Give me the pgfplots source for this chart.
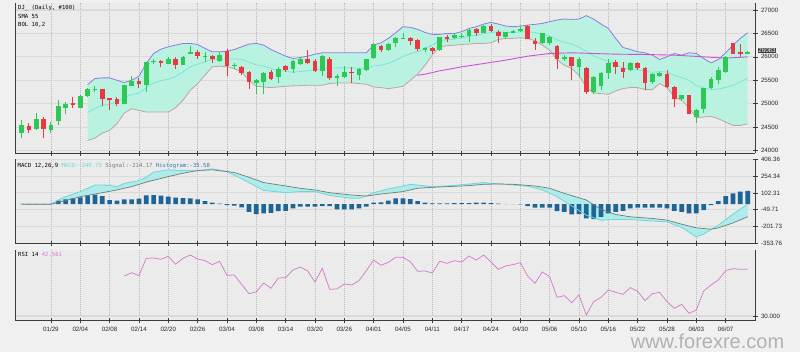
\documentclass[border=0pt]{standalone}
\usepackage{fontspec}
\setmainfont{Liberation Sans}
\newfontfamily\monof{DejaVu Sans Mono}
\usepackage{pgfplots}
\usepackage{pgfplotstable}
\pgfplotsset{compat=1.18}

\definecolor{bgc}{RGB}{240,240,240}
\definecolor{plotbg}{RGB}{235,235,235}
\definecolor{gridc}{RGB}{218,218,218}
\definecolor{vgridc}{RGB}{185,185,185}
\definecolor{axc}{RGB}{60,60,60}
\definecolor{labc}{RGB}{40,40,40}
\definecolor{cup}{RGB}{45,200,85}
\definecolor{cdn}{RGB}{235,55,65}
\definecolor{bolfill}{RGB}{186,242,226}
\definecolor{bolup}{RGB}{140,125,225}
\definecolor{bollo}{RGB}{190,165,160}
\definecolor{bolmid}{RGB}{120,230,215}
\definecolor{smac}{RGB}{205,80,215}
\definecolor{histc}{RGB}{30,100,150}
\definecolor{histtxt}{RGB}{50,120,170}
\definecolor{macdc}{RGB}{110,215,215}
\definecolor{sigc}{RGB}{110,125,120}
\definecolor{macdfill}{RGB}{175,235,235}
\definecolor{rsic}{RGB}{212,125,205}
\definecolor{wmc}{RGB}{178,178,178}
\definecolor{boxc}{RGB}{60,60,60}

\newcommand\hdr{\monof\fontsize{5.6}{6.5}\selectfont}
\newcommand\tkf{\fontsize{6.2}{7}\selectfont}

\pgfplotstableread{
j U M L
9 25407 24810 24214
10 25536 24900 24264
11 25550 24960 24371
12 25550 24990 24429
13 25500 25036 24571
14 25450 25125 24800
15 25500 25196 24893
16 25586 25221 24857
17 25857 25339 24821
18 26071 25446 24821
19 26164 25492 24821
20 26214 25518 24821
21 26250 25582 24914
22 26286 25678 25071
23 26286 25786 25286
24 26264 25846 25429
25 26179 25893 25607
26 26107 25946 25786
27 26107 25954 25800
28 26121 25954 25786
29 26157 25954 25750
30 26214 25946 25679
31 26271 25886 25500
32 26286 25828 25371
33 26250 25804 25357
34 26157 25750 25343
35 26086 25721 25357
36 26014 25693 25371
37 25964 25671 25379
38 25986 25686 25386
39 26014 25704 25393
40 26057 25725 25393
41 26086 25740 25393
42 26086 25758 25429
43 26086 25764 25443
44 26086 25764 25443
45 26086 25764 25443
46 26086 25758 25429
47 26086 25750 25414
48 26250 25804 25357
49 26300 25822 25343
50 26393 25857 25321
51 26514 25929 25343
52 26643 26007 25371
53 26629 26065 25500
54 26586 26108 25629
55 26521 26171 25821
56 26479 26258 26036
57 26479 26347 26214
58 26500 26368 26236
59 26500 26375 26250
60 26536 26400 26264
61 26607 26439 26271
62 26643 26465 26286
63 26700 26493 26286
64 26736 26518 26300
65 26700 26536 26371
66 26657 26525 26393
67 26643 26518 26393
68 26657 26532 26407
69 26679 26536 26393
70 26693 26518 26343
71 26714 26482 26250
72 26750 26447 26143
73 26786 26365 25943
74 26807 26314 25821
75 26800 26275 25750
76 26807 26207 25607
77 26879 26111 25343
78 26807 26018 25229
79 26700 25957 25214
80 26607 25904 25200
81 26393 25832 25271
82 26200 25761 25321
83 26157 25750 25343
84 26107 25725 25343
85 26086 25693 25300
86 26036 25668 25300
87 25943 25686 25429
88 26000 25672 25343
89 26071 25607 25143
90 26036 25554 25071
91 26086 25500 24914
92 26071 25386 24700
93 25964 25339 24714
94 25871 25300 24729
95 25943 25311 24679
96 26086 25347 24607
97 26250 25393 24536
98 26393 25465 24536
99 26514 25543 24571
}\bolT

\pgfplotstableread{
j v
54 25607
55 25629
57 25700
60 25786
63 25857
66 25929
69 26014
72 26071
75 26086
78 26071
81 26057
85 26050
89 26036
93 26000
96 25971
99 26000
}\smaT

\pgfplotstableread{
j v
0 0
4 0
5 38
6 68
8 114
10 174
12 172
13 159
14 189
16 214
17 244
18 290
20 311
22 305
24 302
26 320
28 296
30 230
32 160
33 125
36 104
38 114
40 114
42 80
45 53
46 53
47 74
48 104
50 138
52 165
53 180
56 159
58 165
61 182
63 196
64 189
66 180
69 163
71 130
73 68
75 -15
77 -99
79 -145
81 -138
83 -138
86 -152
88 -160
90 -210
92 -296
93 -270
95 -190
96 -140
97 -90
98 -45
99 1
}\macdT

\pgfplotstableread{
j v
0 0
4 0
6 32
8 68
11 104
13 129
15 159
17 200
20 250
22 280
24 305
26 311
29 287
31 244
33 196
36 165
38 144
40 129
42 104
45 83
47 74
49 92
52 114
54 144
56 153
58 159
61 168
63 180
65 183
67 180
70 165
72 144
74 98
77 38
79 -47
81 -93
83 -114
86 -129
88 -144
90 -181
92 -214
94 -226
95 -214
97 -169
99 -114
}\sigT

\pgfplotstableread{
j v
0 3
1 4
2 2
3 2
4 3
5 31.6
6 43.7
7 52.8
8 61.9
9 80.2
10 86.2
11 74.1
12 37.7
13 31.6
14 43.7
15 43.7
16 49.8
17 80.2
18 83.2
19 77.1
20 68.0
21 58.9
22 55.9
23 52.8
24 43.7
25 28.6
26 13.4
27 4.3
28 -8.0
29 -14.0
30 -29.1
31 -68.5
32 -89.8
33 -83.7
34 -77.6
35 -62.5
36 -59.4
37 -38.2
38 -23.0
39 -23.0
40 -23.0
41 -16.9
42 -16.9
43 -47.3
44 -47.3
45 -47.3
46 -38.2
47 -23.0
48 13.4
49 16.5
50 31.6
51 52.8
52 52.8
53 46.8
54 28.6
55 13.4
56 7.3
57 7.3
58 7.3
59 10.4
60 10.4
61 10.4
62 13.4
63 13.4
64 10.4
65 4.3
66 1.5
67 1.5
68 -1.8
69 -16.9
70 -32.1
71 -32.1
72 -32.1
73 -62.5
74 -68.5
75 -92.8
76 -89.8
77 -129.2
78 -135.3
79 -114.0
80 -83.7
81 -68.5
82 -59.4
83 -38.2
84 -32.1
85 -32.1
86 -32.1
87 -32.1
88 -38.2
89 -59.4
90 -68.5
91 -83.7
92 -83.7
93 -53.4
94 -8
95 28.6
96 74.1
97 98.4
98 113.5
99 119.6
}\histT

\pgfplotstableread{
j v
14 40.75
15 41.65
16 40.84
17 45.50
18 45.59
19 45.23
20 46.04
21 43.89
22 45.50
23 46.40
24 45.32
25 44.87
26 43.80
27 44.70
28 40.93
29 41.02
30 38.51
31 36.00
32 36.45
33 38.87
34 37.44
35 40.22
36 40.30
37 42.37
38 43.17
39 42.10
40 39.14
41 42.81
42 37.17
43 37.26
44 38.60
45 38.33
46 39.50
47 42.19
48 45.05
49 43.62
50 44.43
51 45.77
52 45.77
53 44.61
54 42.01
55 42.10
56 41.56
57 44.70
58 44.16
59 44.87
60 44.52
61 46.13
62 45.05
63 46.40
64 44.52
65 42.54
66 43.44
67 43.80
68 44.34
69 40.75
70 38.78
71 41.83
72 40.57
73 35.02
74 35.47
75 33.58
76 35.65
77 30.27
78 33.85
79 35.02
80 36.99
81 36.36
82 35.82
83 37.62
84 36.63
85 34.12
86 36.00
87 36.36
88 33.85
89 32.06
90 33.14
91 30.72
92 31.61
93 36.72
94 38.33
95 39.68
96 42.19
97 42.72
98 42.54
99 42.56
}\rsiT

\pgfplotsset{
  panel/.style={
    scale only axis, width=740pt,
    xmin=-0.9, xmax=100,
    xtick={4,8,...,96},
    axis background/.style={fill=plotbg},
    xmajorgrids, ymajorgrids,
    major x grid style={draw=vgridc, dash pattern=on 1pt off 1pt, line width=0.5pt},
    major y grid style={draw=gridc, line width=1.1pt},
    axis x line*=bottom, axis y line*=right,
    axis line style={draw=axc, line width=0.7pt, -},
    every tick/.style={draw=axc, line width=0.6pt},
    major tick length=5pt, tick align=center,
    tick label style={font=\tkf, text=labc},
    scaled y ticks=false,
  },
}

\begin{document}
\begin{tikzpicture}[x=1pt,y=1pt]
\useasboundingbox (0,0) rectangle (800,352);
\fill[bgc] (0,0) rectangle (800,352);

% ---------- price panel ----------
\begin{axis}[panel, at={(15pt,198.7pt)}, anchor=south west, height=150.6pt,
  ymin=23940, ymax=27156,
  ytick={24000,24500,25000,25500,26000,26500,27000},
  yticklabels={24000,24500,25000,25500,26000,26500,27000},
  xticklabels={}]
% Bollinger band area (upper forward, lower backward)
\addplot[fill=bolfill, draw=none] coordinates {
(9,25407)(10,25536)(11,25550)(12,25550)(13,25500)(14,25450)(15,25500)(16,25586)(17,25857)(18,26071)(19,26164)(20,26214)(21,26250)(22,26286)(23,26286)(24,26264)(25,26179)(26,26107)(27,26107)(28,26121)(29,26157)(30,26214)(31,26271)(32,26286)(33,26250)(34,26157)(35,26086)(36,26014)(37,25964)(38,25986)(39,26014)(40,26057)(41,26086)(42,26086)(43,26086)(44,26086)(45,26086)(46,26086)(47,26086)(48,26250)(49,26300)(50,26393)(51,26514)(52,26643)(53,26629)(54,26586)(55,26521)(56,26479)(57,26479)(58,26500)(59,26500)(60,26536)(61,26607)(62,26643)(63,26700)(64,26736)(65,26700)(66,26657)(67,26643)(68,26657)(69,26679)(70,26693)(71,26714)(72,26750)(73,26786)(74,26807)(75,26800)(76,26807)(77,26879)(78,26807)(79,26700)(80,26607)(81,26393)(82,26200)(83,26157)(84,26107)(85,26086)(86,26036)(87,25943)(88,26000)(89,26071)(90,26036)(91,26086)(92,26071)(93,25964)(94,25871)(95,25943)(96,26086)(97,26250)(98,26393)(99,26514)
(99,24571)(98,24536)(97,24536)(96,24607)(95,24679)(94,24729)(93,24714)(92,24700)(91,24914)(90,25071)(89,25143)(88,25343)(87,25429)(86,25300)(85,25300)(84,25343)(83,25343)(82,25321)(81,25271)(80,25200)(79,25214)(78,25229)(77,25343)(76,25607)(75,25750)(74,25821)(73,25943)(72,26143)(71,26250)(70,26343)(69,26393)(68,26407)(67,26393)(66,26393)(65,26371)(64,26300)(63,26286)(62,26286)(61,26271)(60,26264)(59,26250)(58,26236)(57,26214)(56,26036)(55,25821)(54,25629)(53,25500)(52,25371)(51,25343)(50,25321)(49,25343)(48,25357)(47,25414)(46,25429)(45,25443)(44,25443)(43,25443)(42,25429)(41,25393)(40,25393)(39,25393)(38,25386)(37,25379)(36,25371)(35,25357)(34,25343)(33,25357)(32,25371)(31,25500)(30,25679)(29,25750)(28,25786)(27,25800)(26,25786)(25,25607)(24,25429)(23,25286)(22,25071)(21,24914)(20,24821)(19,24821)(18,24821)(17,24821)(16,24857)(15,24893)(14,24800)(13,24571)(12,24429)(11,24371)(10,24264)(9,24214)
} -- cycle;
\addplot[draw=bolup, line width=0.8pt] table[x=j,y=U] {\bolT};
\addplot[draw=bollo, line width=0.8pt] table[x=j,y=L] {\bolT};
\addplot[draw=bolmid, line width=0.8pt] table[x=j,y=M] {\bolT};
\addplot[draw=smac, line width=0.9pt] table[x=j,y=v] {\smaT};
% up candles: wicks (low to high)
\addplot[draw=cup, line width=0.9pt, unbounded coords=jump] coordinates {
(0,24264)(0,24657)(0,nan) (2,24429)(2,24800)(2,nan) (4,24371)(4,24607)(4,nan) (5,24536)(5,25071)(5,nan)
(6,24786)(6,25036)(6,nan) (8,24914)(8,25179)(8,nan) (9,25143)(9,25343)(9,nan) (10,25250)(10,25386)(10,nan)
(14,24986)(14,25407)(14,nan) (15,25371)(15,25586)(15,nan) (17,25250)(17,25893)(17,nan) (18,25857)(18,25943)(18,nan)
(20,25843)(20,25986)(20,nan) (22,25821)(22,26014)(22,nan) (23,26057)(23,26236)(23,nan) (25,25893)(25,26107)(25,nan)
(27,25893)(27,26107)(27,nan) (29,25750)(29,25871)(29,nan) (32,25214)(32,25536)(32,nan) (33,25200)(33,25679)(33,nan)
(35,25443)(35,25786)(35,nan) (37,25657)(37,25929)(37,nan) (38,25821)(38,26000)(38,nan) (41,25586)(41,26036)(41,nan)
(43,25371)(43,25629)(43,nan) (44,25557)(44,25800)(44,nan) (46,25514)(46,25771)(46,nan) (47,25700)(47,25964)(47,nan)
(48,25964)(48,26286)(48,nan) (50,26129)(50,26300)(50,nan) (51,26214)(51,26414)(51,nan) (52,26371)(52,26500)(52,nan)
(55,26093)(55,26214)(55,nan) (57,26129)(57,26429)(57,nan) (59,26371)(59,26500)(59,nan) (60,26393)(60,26500)(60,nan)
(61,26321)(61,26607)(61,nan) (63,26500)(63,26679)(63,nan) (66,26371)(66,26536)(66,nan) (67,26500)(67,26571)(67,nan)
(68,26536)(68,26657)(68,nan) (71,26271)(71,26514)(71,nan) (72,26250)(72,26443)(72,nan) (74,25914)(74,26036)(74,nan)
(76,25571)(76,25986)(76,nan) (78,25200)(78,25586)(78,nan) (79,25300)(79,25679)(79,nan) (80,25536)(80,25943)(80,nan)
(83,25700)(83,25893)(83,nan) (86,25429)(86,25657)(86,nan) (87,25571)(87,25679)(87,nan) (90,25057)(90,25193)(90,nan)
(92,24586)(92,24893)(92,nan) (93,24800)(93,25343)(93,nan) (94,25321)(94,25571)(94,nan) (95,25429)(95,25786)(95,nan)
(96,25657)(96,26014)(96,nan) (99,26057)(99,26121)
};
% up candles: bodies (open to close)
\addplot[draw=cup, line width=4.6pt, unbounded coords=jump] coordinates {
(0,24371)(0,24536)(0,nan) (2,24464)(2,24679)(2,nan) (4,24443)(4,24536)(4,nan) (5,24629)(5,24950)(5,nan)
(6,24914)(6,25000)(6,nan) (8,24914)(8,25164)(8,nan) (9,25157)(9,25321)(9,nan) (10,25300)(10,25321)(10,nan)
(14,24986)(14,25393)(14,nan) (15,25379)(15,25479)(15,nan) (17,25393)(17,25893)(17,nan) (18,25886)(18,25914)(18,nan)
(20,25857)(20,25964)(20,nan) (22,25836)(22,26000)(22,nan) (23,26071)(23,26107)(23,nan) (25,25986)(25,26021)(25,nan)
(27,25914)(27,26036)(27,nan) (29,25800)(29,25836)(29,nan) (32,25443)(32,25500)(32,nan) (33,25464)(33,25657)(33,nan)
(35,25571)(35,25750)(35,nan) (37,25750)(37,25907)(37,nan) (38,25857)(38,25964)(38,nan) (41,25693)(41,26014)(41,nan)
(43,25557)(43,25586)(43,nan) (44,25571)(44,25679)(44,nan) (46,25607)(46,25750)(46,nan) (47,25714)(47,25943)(47,nan)
(48,25979)(48,26264)(48,nan) (50,26143)(50,26264)(50,nan) (51,26300)(51,26407)(51,nan) (52,26386)(52,26407)(52,nan)
(55,26143)(55,26179)(55,nan) (57,26143)(57,26414)(57,nan) (59,26393)(59,26464)(59,nan) (60,26414)(60,26450)(60,nan)
(61,26443)(61,26571)(61,nan) (63,26514)(63,26657)(63,nan) (66,26414)(66,26521)(66,nan) (67,26507)(67,26550)(67,nan)
(68,26557)(68,26593)(68,nan) (71,26286)(71,26500)(71,nan) (72,26286)(72,26414)(72,nan) (74,25950)(74,26000)(74,nan)
(76,25786)(76,25964)(76,nan) (78,25250)(78,25571)(78,nan) (79,25371)(79,25657)(79,nan) (80,25657)(80,25871)(80,nan)
(83,25714)(83,25871)(83,nan) (86,25464)(86,25629)(86,nan) (87,25586)(87,25657)(87,nan) (90,25093)(90,25179)(90,nan)
(92,24714)(92,24871)(92,nan) (93,24893)(93,25336)(93,nan) (94,25343)(94,25536)(94,nan) (95,25500)(95,25729)(95,nan)
(96,25679)(96,26000)(96,nan) (99,26071)(99,26095)
};
% down candles: wicks
\addplot[draw=cdn, line width=0.9pt, unbounded coords=jump] coordinates {
(1,24371)(1,24586)(1,nan) (3,24264)(3,24714)(3,nan) (7,24914)(7,25143)(7,nan) (11,24943)(11,25321)(11,nan)
(12,24857)(12,25129)(12,nan) (13,24943)(13,25143)(13,nan) (16,25343)(16,25557)(16,nan) (19,25786)(19,25929)(19,nan)
(21,25750)(21,25986)(21,nan) (24,25964)(24,26143)(24,nan) (26,25871)(26,26036)(26,nan) (28,25586)(28,26157)(28,nan)
(30,25607)(30,25800)(30,nan) (31,25321)(31,25700)(31,nan) (34,25500)(34,25729)(34,nan) (36,25679)(36,25821)(36,nan)
(39,25857)(39,26143)(39,nan) (40,25679)(40,25943)(40,nan) (42,25514)(42,25986)(42,nan) (45,25443)(45,25786)(45,nan)
(49,26107)(49,26250)(49,nan) (53,26250)(53,26414)(53,nan) (54,26129)(54,26371)(54,nan) (56,26057)(56,26214)(56,nan)
(58,26321)(58,26464)(58,nan) (62,26443)(62,26607)(62,nan) (64,26536)(64,26700)(64,nan) (65,26286)(65,26571)(65,nan)
(69,26371)(69,26679)(69,nan) (70,26143)(70,26393)(70,nan) (73,25750)(73,26250)(73,nan) (75,25500)(75,26000)(75,nan)
(77,25214)(77,25786)(77,nan) (81,25643)(81,25929)(81,nan) (82,25557)(82,25893)(82,nan) (84,25729)(84,25893)(84,nan)
(85,25300)(85,25786)(85,nan) (88,25343)(88,25714)(88,nan) (89,24929)(89,25371)(89,nan) (91,24771)(91,25193)(91,nan)
(97,26057)(97,26300)(97,nan) (98,26000)(98,26271)
};
% down candles: bodies (close to open)
\addplot[draw=cdn, line width=4.6pt, unbounded coords=jump] coordinates {
(1,24443)(1,24514)(1,nan) (3,24464)(3,24664)(3,nan) (7,24979)(7,25021)(7,nan) (11,25107)(11,25307)(11,nan)
(12,25071)(12,25114)(12,nan) (13,25000)(13,25093)(13,nan) (16,25414)(16,25493)(16,nan) (19,25871)(19,25907)(19,nan)
(21,25821)(21,25950)(21,nan) (24,26021)(24,26093)(24,nan) (26,25943)(26,26014)(26,nan) (28,25800)(28,26129)(28,nan)
(30,25657)(30,25786)(30,nan) (31,25464)(31,25679)(31,nan) (34,25536)(34,25679)(34,nan) (36,25729)(36,25800)(36,nan)
(39,25871)(39,25964)(39,nan) (40,25700)(40,25907)(40,nan) (42,25550)(42,25964)(42,nan) (45,25657)(45,25686)(45,nan)
(49,26143)(49,26236)(49,nan) (53,26343)(53,26393)(53,nan) (54,26157)(54,26357)(54,nan) (56,26121)(56,26179)(56,nan)
(58,26371)(58,26429)(58,nan) (62,26514)(62,26586)(62,nan) (64,26550)(64,26657)(64,nan) (65,26443)(65,26536)(65,nan)
(69,26371)(69,26664)(69,nan) (70,26271)(70,26336)(70,nan) (73,25964)(73,26229)(73,nan) (75,25807)(75,25986)(75,nan)
(77,25250)(77,25764)(77,nan) (81,25786)(81,25893)(81,nan) (82,25679)(82,25764)(82,nan) (84,25764)(84,25871)(84,nan)
(85,25443)(85,25764)(85,nan) (88,25357)(88,25629)(88,nan) (89,25093)(89,25357)(89,nan) (91,24786)(91,25179)(91,nan)
(97,26071)(97,26286)(97,nan) (98,26057)(98,26107)
};
\end{axis}

% ---------- MACD panel ----------
\begin{axis}[panel, at={(15pt,108.7pt)}, anchor=south west, height=84pt,
  ymin=-353.76, ymax=406.36,
  ytick={-353.76,-201.73,-49.71,102.31,254.34,406.36},
  yticklabels={-353.76,-201.73,-49.71,102.31,254.34,406.36},
  xticklabels={}]
\addplot[fill=macdfill, draw=none] coordinates {
(0,0)(4,0)(5,38)(6,68)(8,114)(10,174)(12,172)(13,159)(14,189)(16,214)(17,244)(18,290)(20,311)(22,305)(24,302)(26,320)(28,296)(30,230)(32,160)(33,125)(36,104)(38,114)(40,114)(42,80)(45,53)(46,53)(47,74)(48,104)(50,138)(52,165)(53,180)(56,159)(58,165)(61,182)(63,196)(64,189)(66,180)(69,163)(71,130)(73,68)(75,-15)(77,-99)(79,-145)(81,-138)(83,-138)(86,-152)(88,-160)(90,-210)(92,-296)(93,-270)(95,-190)(96,-140)(97,-90)(98,-45)(99,1)
(99,-114)(97,-169)(95,-214)(94,-226)(92,-214)(90,-181)(88,-144)(86,-129)(83,-114)(81,-93)(79,-47)(77,38)(74,98)(72,144)(70,165)(67,180)(65,183)(63,180)(61,168)(58,159)(56,153)(54,144)(52,114)(49,92)(47,74)(45,83)(42,104)(40,129)(38,144)(36,165)(33,196)(31,244)(29,287)(26,311)(24,305)(22,280)(20,250)(17,200)(15,159)(13,129)(11,104)(8,68)(6,32)(4,0)(0,0)
} -- cycle;
\addplot[ybar, bar width=0.64, fill=histc, draw=none] table[x=j,y=v] {\histT};
\addplot[draw=macdc, line width=0.8pt] table[x=j,y=v] {\macdT};
\addplot[draw=sigc, line width=0.7pt] table[x=j,y=v] {\sigT};
\end{axis}

% ---------- RSI panel ----------
\begin{axis}[panel, at={(15pt,31.4pt)}, anchor=south west, height=70.6pt,
  ymin=28.76, ymax=47.74,
  ytick={30}, yticklabels={30.000},
  xticklabels={01/29,02/04,02/08,02/14,02/20,02/26,03/04,03/08,03/14,03/20,03/26,04/01,04/05,04/11,04/17,04/24,04/30,05/06,05/10,05/16,05/22,05/28,06/03,06/07}]
\addplot[draw=rsic, line width=0.75pt] table[x=j,y=v] {\rsiT};
\end{axis}

% left border lines
\draw[axc, line width=0.7pt] (15,198.7) -- (15,349.3);
\draw[axc, line width=0.7pt] (15,108.7) -- (15,192.7);
\draw[axc, line width=0.7pt] (15,31.4) -- (15,102);

% texts
\node[anchor=west, inner sep=0, font=\hdr] at (18,343.7) {DJ\_ (Daily, \#100)};
\node[anchor=west, inner sep=0, font=\hdr] at (18,335.3) {SMA 55};
\node[anchor=west, inner sep=0, font=\hdr] at (18,327) {BOL 10,2};
\node[anchor=west, inner sep=0, font=\hdr] at (17.5,186) {MACD 12,26,9 \textcolor{macdc}{MACD:-249.75} \textcolor{sigc}{Signal:-214.17} \textcolor{histtxt}{Histogram:-35.58}};
\node[anchor=west, inner sep=0, font=\hdr] at (18,97.3) {RSI 14 \textcolor{rsic}{42.561}};

\node[fill=boxc, text=white, inner xsep=0.8pt, inner ysep=0.4pt, font=\tkf] at (767,301.6) {26083};

\node[font=\fontsize{20}{24}\selectfont, text=wmc, inner sep=0pt] at (707.5,10.2) {www.forexre.com};
\end{tikzpicture}
\end{document}
